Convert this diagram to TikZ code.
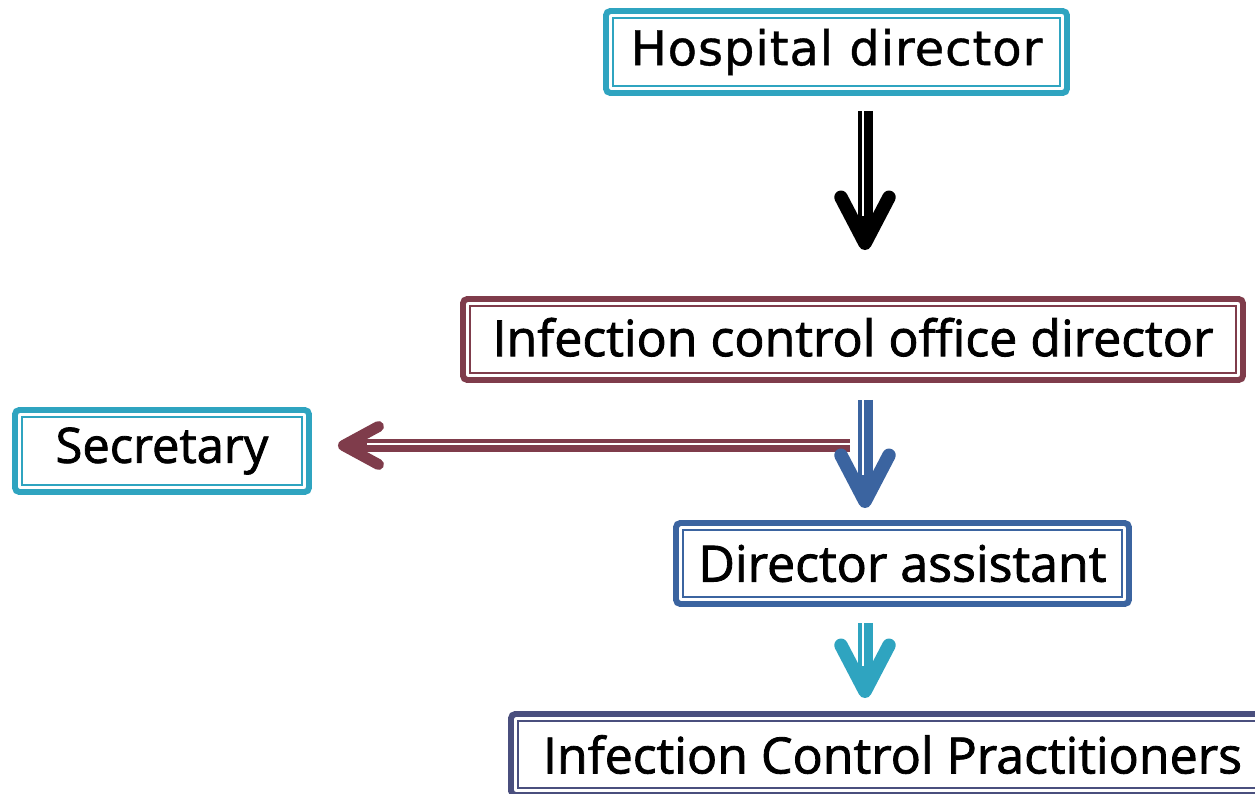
\documentclass[tikz,border=0pt]{standalone}
\usepackage{fontspec}
\setmainfont{Open Sans}[FakeBold=1.6]
\newfontfamily\hospfont{DejaVu Sans}[FakeBold=0.8, LetterSpace=2]
\usetikzlibrary{arrows.meta, calc}
\definecolor{tealC}{HTML}{2FA4C0}
\definecolor{maroonC}{HTML}{7F3C4B}
\definecolor{blueC}{HTML}{3B64A0}
\definecolor{navyC}{HTML}{4A4F7E}
\tikzset{frame/.style={draw=#1, line width=3.4pt, rounded corners=2.5pt, fill=white, inner sep=0pt,
		path picture={\draw[#1, line width=1.1pt, sharp corners]
			([shift={(4pt,-4pt)}]path picture bounding box.north west) rectangle
			([shift={(-4pt,4pt)}]path picture bounding box.south east);}},
	lbl/.style={font=\fontsize{28.5}{30}\selectfont},
	arr/.style={draw=#1, line width=0.3cm, -{Straight Barb[round, length=0.92cm, width=0.96cm, line width=0.27cm]}},
	gap/.style={postaction={draw=white, line width=0.04cm, -, #1}}}

\begin{document}
\begin{tikzpicture}[]
		\path[use as bounding box, clip] (0,0) rectangle (25.1,-15.88);
		\node[frame=tealC, minimum width=9.22cm, minimum height=1.64cm, font=\hospfont\fontsize{27.3}{29}\selectfont] (hosp) at (16.73,-1.04) {Hospital director};
		\node[frame=maroonC, lbl, minimum width=15.6cm, minimum height=1.62cm, text depth=0.1cm] (icod) at (17.06,-6.79) {Infection control office director};
		\node[frame=tealC, lbl, minimum width=5.88cm, minimum height=1.64cm, font=\fontsize{27.8}{30}\selectfont] (sec) at (3.24,-9.02) {Secretary};
		\node[frame=blueC, lbl, minimum width=9.06cm, minimum height=1.62cm] (asst) at (18.05,-11.27) {Director assistant};
		\node[frame=navyC, lbl, minimum width=15.26cm, minimum height=1.62cm] (icp) at (17.85,-15.09) {Infection Control Practitioners};

		\coordinate (ax) at (17.3,0);
		\coordinate (split) at (17.0,-8.91);

		\draw[arr=maroonC, line width=0.26cm, -{Straight Barb[round, length=0.7cm, width=0.76cm, line width=0.22cm]},
		  shorten >=0.52cm, gap={shorten >=1.1cm, transform canvas={yshift=0.03cm}}] (split) -- (split -| sec.east);

		\foreach \a/\b/\c/\s/\e/\g in {hosp/icod/black/0.3/0.92/1.6, icod/asst/blueC/0.34/0.24/0.9, asst/icp/tealC/0.32/0.26/0.9}{
		  \draw[arr=\c, shorten <=\s cm, shorten >=\e cm, gap={shorten >=\g cm, transform canvas={xshift=-0.05cm}}]
		    (\a.south -| ax) -- (\b.north -| ax);
		}
	\end{tikzpicture}
\end{document}
